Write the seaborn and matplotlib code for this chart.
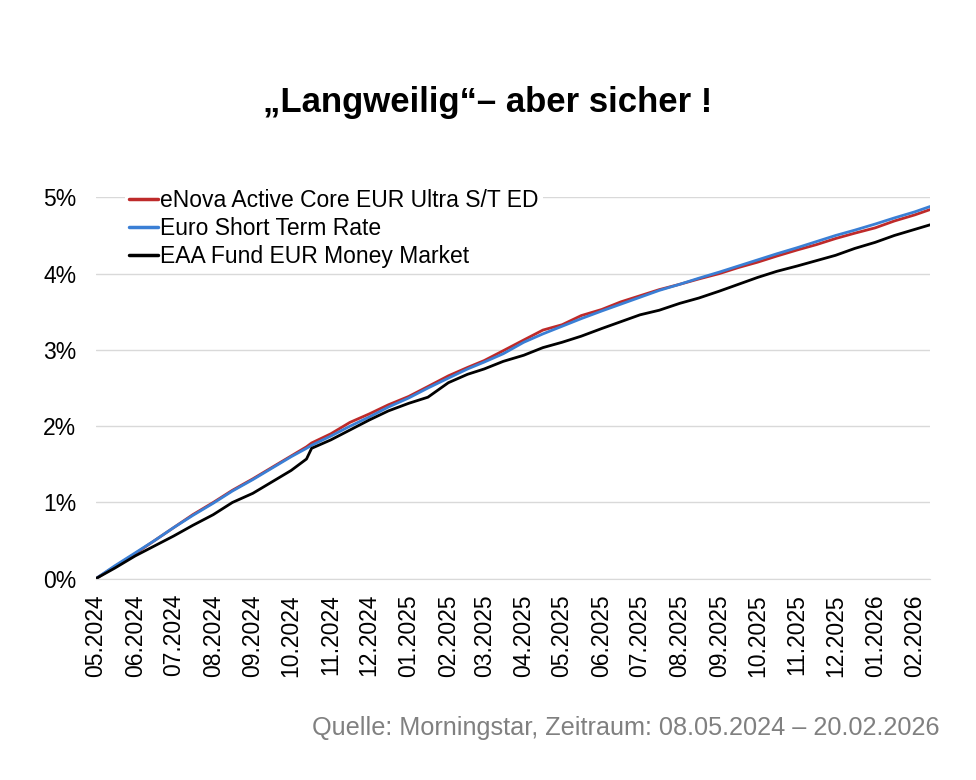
import pandas as pd
import numpy as np
import matplotlib.pyplot as plt
import matplotlib.dates as mdates
from matplotlib.ticker import FuncFormatter
import seaborn as sns

# Daten (kumulierte Wertentwicklung in %)
dates = ['2024-05-08', '2024-05-23', '2024-06-08', '2024-06-23', '2024-07-08', '2024-07-23',
         '2024-08-08', '2024-08-23', '2024-09-08', '2024-09-23', '2024-10-08', '2024-10-20',
         '2024-10-24', '2024-11-08', '2024-11-23', '2024-12-08', '2024-12-23', '2025-01-08',
         '2025-01-23', '2025-02-08', '2025-02-23', '2025-03-08', '2025-03-23', '2025-04-08',
         '2025-04-23', '2025-05-08', '2025-05-23', '2025-06-08', '2025-06-23', '2025-07-08',
         '2025-07-23', '2025-08-08', '2025-08-23', '2025-09-08', '2025-09-23', '2025-10-08',
         '2025-10-23', '2025-11-08', '2025-11-23', '2025-12-08', '2025-12-23', '2026-01-08',
         '2026-01-23', '2026-02-08', '2026-02-20']

enova = [0.00, 0.16, 0.33, 0.50, 0.67, 0.84, 1.00, 1.16, 1.31, 1.46, 1.61, 1.73,
         1.78, 1.90, 2.05, 2.16, 2.28, 2.39, 2.52, 2.66, 2.77, 2.86, 2.99, 3.13,
         3.26, 3.33, 3.45, 3.53, 3.63, 3.71, 3.79, 3.86, 3.93, 4.00, 4.08, 4.15,
         4.23, 4.31, 4.38, 4.46, 4.53, 4.60, 4.69, 4.77, 4.84]

estr = [0.00, 0.17, 0.34, 0.50, 0.67, 0.83, 0.99, 1.15, 1.30, 1.45, 1.60, 1.71,
        1.75, 1.87, 2.00, 2.12, 2.25, 2.37, 2.50, 2.63, 2.75, 2.84, 2.95, 3.10,
        3.21, 3.31, 3.41, 3.51, 3.60, 3.69, 3.78, 3.86, 3.94, 4.02, 4.10, 4.18,
        4.26, 4.34, 4.42, 4.50, 4.57, 4.65, 4.73, 4.81, 4.88]

eaa = [0.00, 0.14, 0.30, 0.43, 0.56, 0.70, 0.84, 1.00, 1.12, 1.27, 1.42, 1.57,
       1.71, 1.82, 1.95, 2.08, 2.20, 2.30, 2.38, 2.57, 2.68, 2.75, 2.85, 2.93,
       3.03, 3.10, 3.18, 3.28, 3.37, 3.46, 3.52, 3.61, 3.68, 3.77, 3.86, 3.95,
       4.03, 4.10, 4.17, 4.24, 4.33, 4.41, 4.50, 4.58, 4.64]

names = ['eNova Active Core EUR Ultra S/T ED', 'Euro Short Term Rate', 'EAA Fund EUR Money Market']
colors = ['#BE2A2A', '#3A7FD5', '#000000']

df = pd.DataFrame({'Datum': pd.to_datetime(dates),
                   names[0]: enova, names[1]: estr, names[2]: eaa})
df_long = df.melt(id_vars='Datum', var_name='Serie', value_name='Wert')

sns.set_style('white')
plt.rcParams['font.family'] = ['Liberation Sans', 'DejaVu Sans']
plt.rcParams['text.color'] = 'black'
plt.rcParams['xtick.labelcolor'] = 'black'
plt.rcParams['ytick.labelcolor'] = 'black'

fig = plt.figure(figsize=(9.76, 7.8), dpi=100)
ax = fig.add_axes([0.098, 0.258, 0.855, 0.489])

sns.lineplot(data=df_long, x='Datum', y='Wert', hue='Serie', hue_order=names,
             palette=colors, linewidth=2.0, ax=ax)

ax.set_ylim(0, 5)
ax.set_yticks(np.arange(0, 6, 1))
ax.yaxis.set_major_formatter(FuncFormatter(lambda v, p: f'{v:.0f}%'))
ax.set_xlim(pd.Timestamp('2024-05-08'), pd.Timestamp('2026-02-20'))
xticks = pd.date_range('2024-05-01', '2026-02-01', freq='MS') + pd.Timedelta(days=7)
ax.set_xticks(xticks)
ax.xaxis.set_major_formatter(mdates.DateFormatter('%m.%Y'))
ax.tick_params(axis='x', rotation=90, labelsize=16.5, length=7, color='#d9d9d9', width=1, pad=4)
ax.tick_params(axis='y', labelsize=16.5, length=0, pad=14)
ax.grid(axis='y', color='#d9d9d9', linewidth=1)
ax.set_axisbelow(True)
for s in ['top', 'right', 'left']:
    ax.spines[s].set_visible(False)
ax.spines['bottom'].set_color('#d9d9d9')
ax.set_xlabel('')
ax.set_ylabel('')

leg = ax.legend(loc='upper left', bbox_to_anchor=(0.035, 1.033), frameon=True,
                fontsize=16.5, handlelength=1.25, handletextpad=0.1,
                labelspacing=0.22, borderpad=0.2, borderaxespad=0)
leg.get_frame().set_edgecolor('none')
leg.get_frame().set_facecolor('white')
leg.get_frame().set_alpha(1)
for line in leg.get_lines():
    line.set_linewidth(2.5)

fig.text(0.5, 0.868, '„Langweilig“– aber sicher !', ha='center', va='center',
         fontsize=25, fontweight='bold')
fig.text(0.963, 0.067, 'Quelle: Morningstar, Zeitraum: 08.05.2024 – 20.02.2026',
         ha='right', va='center', fontsize=18.2, color='#808080')

plt.savefig('out.png', dpi=100)
